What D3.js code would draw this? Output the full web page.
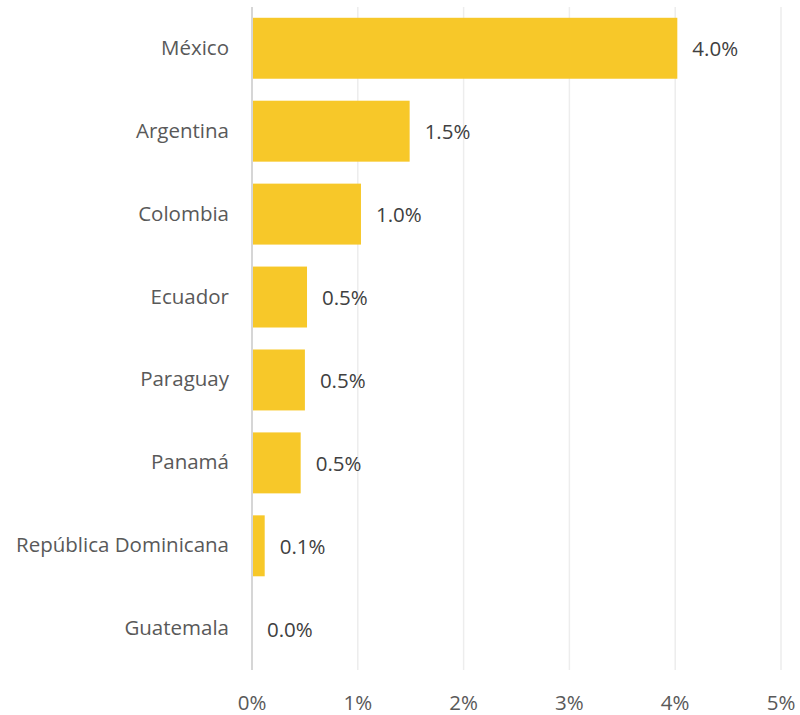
<!DOCTYPE html>
<html><head><meta charset="utf-8">
<script src="https://cdn.jsdelivr.net/npm/d3@7"></script>
<style>body{margin:0;background:#fff}svg{display:block}</style>
</head><body>
<svg id="c" width="800" height="715"></svg>
<script>
const categories = ["México","Argentina","Colombia","Ecuador","Paraguay","Panamá","República Dominicana","Guatemala"];
const values = [4.02, 1.49, 1.03, 0.52, 0.50, 0.46, 0.12, 0.0];
const xTicks = [0,1,2,3,4,5];

const svg = d3.select("#c");
const font = "'Open Sans', 'Liberation Sans', sans-serif";
const fs = 20.5;
const x = d3.scaleLinear().domain([0,5]).range([252,781]);
const y = d3.scaleBand().domain(categories).range([7,670]).paddingInner(0.265).paddingOuter(0.13);

// gridlines
svg.append("g").selectAll("line").data(xTicks.filter(d=>d>0)).join("line")
  .attr("x1",d=>x(d)).attr("x2",d=>x(d)).attr("y1",7).attr("y2",670)
  .attr("stroke","#ededed").attr("stroke-width",1.5);

// bars
svg.append("g").selectAll("rect").data(values).join("rect")
  .attr("x",x(0)).attr("y",(d,i)=>y(categories[i]))
  .attr("width",d=>x(d)-x(0)).attr("height",y.bandwidth())
  .attr("fill","#F7C829");

// axis line
svg.append("line").attr("x1",x(0)).attr("x2",x(0)).attr("y1",7).attr("y2",670)
  .attr("stroke","#d6d6d6").attr("stroke-width",2);

// value labels
svg.append("g").selectAll("text").data(values).join("text")
  .attr("x",d=>x(d)+15).attr("y",(d,i)=>y(categories[i])+y.bandwidth()/2+8)
  .attr("font-family",font).attr("font-size",fs).attr("fill","#404040")
  .text(d=>d3.format(".1f")(d)+"%");

// category labels
svg.append("g").selectAll("text").data(categories).join("text")
  .attr("x",229).attr("y",d=>y(d)+y.bandwidth()/2+6.5)
  .attr("text-anchor","end").attr("font-family",font).attr("font-size",fs).attr("fill","#595959")
  .text(d=>d);

// x tick labels
svg.append("g").selectAll("text").data(xTicks).join("text")
  .attr("x",d=>x(d)).attr("y",710).attr("text-anchor","middle")
  .attr("font-family",font).attr("font-size",fs).attr("fill","#595959")
  .text(d=>d+"%");
</script>
</body></html>
